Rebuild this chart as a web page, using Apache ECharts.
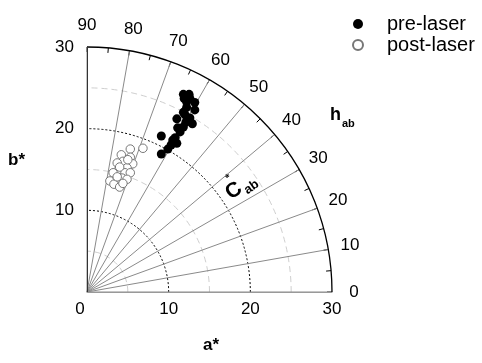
<!DOCTYPE html>
<html><head><meta charset="utf-8">
<script src="https://cdn.jsdelivr.net/npm/echarts@6/dist/echarts.min.js"></script>
<style>html,body{margin:0;padding:0;background:#fff}#c{width:482px;height:363px}</style>
</head><body><div id="c"></div>
<script>
// ---- data (a*, b*) ----
const preLaser = [
  [11.8,24.2],[12.1,24.0],[12.5,24.2],[11.9,23.7],[12.6,23.7],[12.2,23.3],[13.2,23.2],
  [12.2,22.6],[13.2,22.3],[11.8,22.0],[11.0,21.2],[12.0,21.7],[12.6,21.3],[12.9,20.6],
  [12.1,20.8],[11.8,20.2],[11.4,19.6],[11.1,20.1],[9.1,19.1],[10.5,18.6],[11.0,18.2],
  [10.8,18.9],[9.9,17.5],[9.1,16.9],[10.3,18.0]
];
const postLaser = [
  [6.85,17.6],[5.3,17.5],[4.2,16.8],[5.3,16.5],[4.4,16.0],[5.6,15.7],[3.7,15.8],
  [3.8,14.9],[4.9,15.2],[4.65,14.6],[3.2,14.6],[5.3,14.6],[4.3,13.95],[2.8,13.6],
  [4.9,13.8],[3.3,13.2],[4.0,12.85],[4.4,13.3],[3.7,14.1],[5.0,16.2],[4.0,15.3]
];
const abTicks = [0, 10, 20, 30];
const hueTicks = [0, 10, 20, 30, 40, 50, 60, 70, 80, 90];
const seriesNames = ['pre-laser', 'post-laser'];

const FONT = 'Liberation Sans';
const CX = 87, CY = 292, R = 245;
const LABEL_MAX = 35;
const chart = echarts.init(document.getElementById('c'));

const hiddenAngle = (idx) => ({ polarIndex: idx, type: 'value', min: 0, max: 90, interval: 10,
  startAngle: 0, endAngle: 90, clockwise: false,
  axisLine: { show: false }, axisTick: { show: false }, axisLabel: { show: false }, splitLine: { show: false } });

chart.setOption({
  animation: false,
  backgroundColor: '#fff',
  textStyle: { fontFamily: FONT },
  grid: { left: CX, top: CY - R, width: R, height: R, containLabel: false },
  xAxis: {
    type: 'value', min: abTicks[0], max: abTicks[abTicks.length - 1], interval: 10,
    axisLine: { show: true, lineStyle: { color: '#999', width: 1 } },
    axisTick: { show: false }, splitLine: { show: false },
    axisLabel: { fontSize: 17, color: '#000', margin: 9, fontFamily: FONT,
      formatter: v => v === 0 ? '{z|0}' : String(v),
      rich: { z: { fontSize: 17, color: '#000', padding: [0, 14, 0, 0], fontFamily: FONT } } },
    z: 5
  },
  yAxis: {
    type: 'value', min: abTicks[0], max: abTicks[abTicks.length - 1], interval: 10,
    axisLine: { show: true, lineStyle: { color: '#333', width: 1 } },
    axisTick: { show: false }, splitLine: { show: false },
    axisLabel: { fontSize: 17, color: '#000', margin: 13, showMinLabel: false, fontFamily: FONT },
    z: 5
  },
  polar: [
    { center: [CX, CY], radius: R },
    { center: [CX, CY], radius: R },
    { center: [CX, CY], radius: R * LABEL_MAX / 30 }
  ],
  angleAxis: [
    { polarIndex: 0, type: 'value', min: 0, max: 90, interval: 5,
      startAngle: 0, endAngle: 90, clockwise: false,
      axisLine: { show: true, lineStyle: { color: '#000', width: 1.3 } },
      axisTick: { show: true, inside: true, length: 5, lineStyle: { color: '#000', width: 1 } },
      axisLabel: { show: false },
      splitLine: { show: true, lineStyle: { color: ['#8a8a8a', 'rgba(0,0,0,0)'], width: 1 } }, z: 3 },
    hiddenAngle(1),
    hiddenAngle(2)
  ],
  radiusAxis: [
    { polarIndex: 0, type: 'value', min: 0, max: 30, interval: 5,
      axisLine: { show: false }, axisTick: { show: false }, axisLabel: { show: false },
      splitLine: { show: true, lineStyle: { color: ['rgba(0,0,0,0)', '#cfcfcf'], type: [6, 4], width: 1 } } },
    { polarIndex: 1, type: 'value', min: 0, max: 30, interval: 10,
      axisLine: { show: false }, axisTick: { show: false }, axisLabel: { show: false },
      splitLine: { show: true, lineStyle: { color: ['rgba(0,0,0,0)', '#000', '#000', 'rgba(0,0,0,0)'], type: [2, 2], width: 1 } } },
    { polarIndex: 2, type: 'value', min: 0, max: LABEL_MAX,
      axisLine: { show: false }, axisTick: { show: false }, axisLabel: { show: false }, splitLine: { show: false } }
  ],
  legend: {
    orient: 'vertical', left: 347, top: 9, itemGap: 1, itemWidth: 10, itemHeight: 10,
    icon: 'circle', data: seriesNames,
    textStyle: { fontSize: 20, color: '#000', fontFamily: FONT, padding: [0, 0, 0, 19] }
  },
  series: [
    { name: seriesNames[0], type: 'scatter', data: preLaser, symbol: 'circle', symbolSize: 9,
      itemStyle: { color: '#000', opacity: 1 }, z: 10 },
    { name: seriesNames[1], type: 'scatter', data: postLaser, symbol: 'circle', symbolSize: 8.5,
      itemStyle: { color: '#fff', borderColor: '#777', borderWidth: 1, opacity: 1 }, z: 9 },
    { type: 'scatter', coordinateSystem: 'polar', polarIndex: 2, symbolSize: 0.5, silent: true,
      itemStyle: { color: '#fff', opacity: 1 },
      data: hueTicks.map(h => [32.7, h]),
      label: { show: true, position: 'inside',
        formatter: p => String(p.value[1]), fontSize: 17, color: '#000',
        textBorderWidth: 0, fontFamily: FONT } }
  ],
  graphic: [
    { type: 'text', left: 8, top: 152, style: { text: 'b*', font: 'bold 17px ' + FONT, fill: '#000' } },
    { type: 'text', left: 203, top: 337, style: { text: 'a*', font: 'bold 17px ' + FONT, fill: '#000' } },
    { type: 'text', x: 330, y: 106, style: { text: 'h', font: 'bold 18px ' + FONT, fill: '#000' } },
    { type: 'text', x: 342, y: 118, style: { text: 'ab', font: 'bold 11px ' + FONT, fill: '#000' } },
    { type: 'group', x: 234, y: 191, rotation: 35 * Math.PI / 180, children: [
      { type: 'text', style: { text: 'C', x: 0, y: 0, align: 'center', verticalAlign: 'middle', font: 'bold 21px ' + FONT, fill: '#000' } },
      { type: 'text', style: { text: '*', x: 3, y: -14, align: 'center', verticalAlign: 'middle', font: 'bold 11px ' + FONT, fill: '#000' } },
      { type: 'text', style: { text: 'ab', x: 9, y: 7, align: 'left', verticalAlign: 'middle', font: 'bold 13px ' + FONT, fill: '#000' } }
    ] }
  ]
});
</script></body></html>
